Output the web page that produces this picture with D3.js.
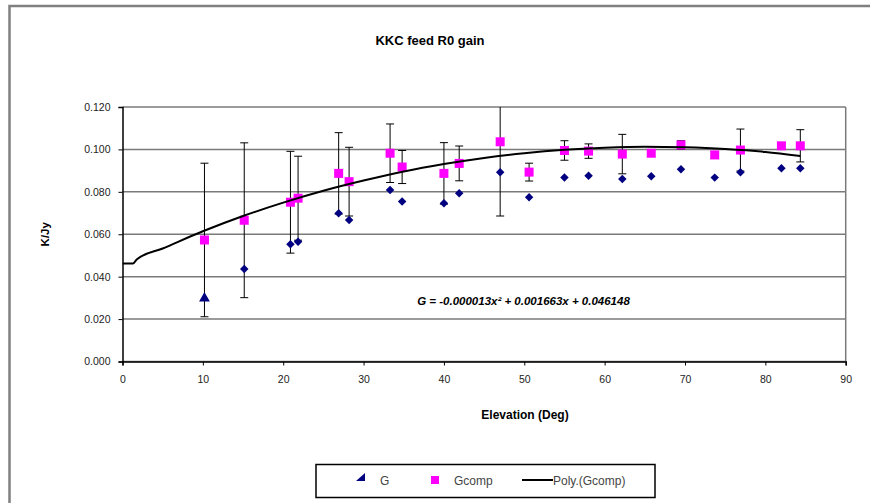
<!DOCTYPE html>
<html>
<head>
<meta charset="utf-8">
<script src="https://cdn.jsdelivr.net/npm/d3@7"></script>
<style>
  body { margin: 0; background: #fff; }
  svg { display: block; font-family: "Liberation Sans", Arial, sans-serif; }
</style>
</head>
<body>
<div id="chart"></div>
<script>
// elevation (deg) of each measurement
var elevation = [10.2, 15.15, 20.9, 21.85, 26.9, 28.2, 33.3, 34.8, 40.0, 41.9, 47.0, 50.6, 55.0, 58.0, 62.2, 65.8, 69.5, 73.7, 76.9, 82.0, 84.35];
// raw gain G
var gValues = [0.0298, 0.0436, 0.0553, 0.0565, 0.0699, 0.0667, 0.0809, 0.0754, 0.0746, 0.0793, 0.0892, 0.0774, 0.0868, 0.0876, 0.0860, 0.0873, 0.0906, 0.0867, 0.0892, 0.0911, 0.0911];
// compensated gain
var gcompValues = [0.0573, 0.0666, 0.0751, 0.0770, 0.0887, 0.0848, 0.0982, 0.0917, 0.0887, 0.0934, 0.1036, 0.0893, 0.0995, 0.0992, 0.0978, 0.0982, 0.1021, 0.0974, 0.0997, 0.1017, 0.1017];
// error bar half-height on Gcomp
var gcompErr = [0.0362, 0.0365, 0.0240, 0.0198, 0.0192, 0.0162, 0.0138, 0.0078, 0.0145, 0.0082, 0.0350, 0.0042, 0.0046, 0.0034, 0.0093, 0.0015, 0.0020, 0.0015, 0.0099, 0.0015, 0.0076];
// polynomial trendline
var trendX = [0, 1.3, 1.8, 5, 10, 15, 20, 25, 30, 35, 40, 45, 50, 55, 60, 65, 70, 75, 80, 84.35];
var trendY = [0.0462, 0.0462, 0.0482, 0.0533, 0.0614, 0.0686, 0.0749, 0.0805, 0.0853, 0.0896, 0.0931, 0.0960, 0.0982, 0.0998, 0.1008, 0.1013, 0.1010, 0.1002, 0.0988, 0.0969];

var xTicks = [0, 10, 20, 30, 40, 50, 60, 70, 80, 90];
var yTicks = [0, 0.02, 0.04, 0.06, 0.08, 0.10, 0.12];

var width = 870, height = 503;
var plotLeft = 122.5, plotRight = 845.7, plotTop = 107, plotBottom = 361.5;

var svg = d3.select("#chart").append("svg")
  .attr("width", width)
  .attr("height", height);

svg.append("rect").attr("width", width).attr("height", height).attr("fill", "#fff");

// outer chart frame (only top and left show)
svg.append("path")
  .attr("d", "M9.5," + height + "V6H" + width)
  .attr("fill", "none")
  .attr("stroke", "#808080")
  .attr("stroke-width", 2.5);

var x = d3.scaleLinear().domain([0, 90]).range([plotLeft, plotRight]);
var y = d3.scaleLinear().domain([0, 0.12]).range([plotBottom, plotTop]);

// gridlines
svg.append("g").selectAll("line")
  .data(yTicks)
  .enter().append("line")
    .attr("x1", plotLeft).attr("x2", plotRight)
    .attr("y1", function(d) { return y(d) }).attr("y2", function(d) { return y(d) })
    .attr("stroke", "#7a7a7a")
    .attr("stroke-width", 1.5);

// right border of plot area
svg.append("line")
  .attr("x1", plotRight).attr("x2", plotRight).attr("y1", plotTop).attr("y2", plotBottom)
  .attr("stroke", "#7a7a7a").attr("stroke-width", 1.5);

// axes
var yAxis = svg.append("g")
  .attr("transform", "translate(" + plotLeft + ",0)")
  .call(d3.axisLeft(y).tickValues(yTicks).tickFormat(d3.format(".3f")).tickSize(4).tickPadding(8));
var xAxis = svg.append("g")
  .attr("transform", "translate(0," + plotBottom + ")")
  .call(d3.axisBottom(x).tickValues(xTicks).tickSize(4).tickPadding(10));

[xAxis, yAxis].forEach(function(a) {
  a.select(".domain").attr("stroke", "#000").attr("stroke-width", 1.5);
  a.selectAll(".tick line").attr("stroke", "#000");
  a.selectAll("text").style("font-size", "10.5px").style("font-family", "Liberation Sans").attr("fill", "#222");
});

// titles
svg.append("text")
  .attr("x", 430).attr("y", 45)
  .attr("text-anchor", "middle")
  .style("font-size", "13px").style("font-weight", "bold")
  .text("KKC feed R0 gain");

svg.append("text")
  .attr("x", 525).attr("y", 419)
  .attr("text-anchor", "middle")
  .style("font-size", "12px").style("font-weight", "bold")
  .text("Elevation (Deg)");

svg.append("text")
  .attr("transform", "translate(49," + ((plotTop + plotBottom) / 2) + ") rotate(-90)")
  .attr("text-anchor", "middle")
  .style("font-size", "11.5px").style("font-weight", "bold")
  .text("K/Jy");

// clip for the plot
svg.append("defs").append("clipPath").attr("id", "clip")
  .append("rect").attr("x", plotLeft).attr("y", plotTop)
  .attr("width", plotRight - plotLeft).attr("height", plotBottom - plotTop);

var plot = svg.append("g").attr("clip-path", "url(#clip)");

// error bars on Gcomp
var errs = plot.append("g").selectAll("g")
  .data(elevation)
  .enter().append("g")
    .attr("stroke", "#000").attr("stroke-width", 1);
errs.append("line")
  .attr("x1", function(d) { return x(d) }).attr("x2", function(d) { return x(d) })
  .attr("y1", function(d, i) { return y(gcompValues[i] + gcompErr[i]) })
  .attr("y2", function(d, i) { return y(gcompValues[i] - gcompErr[i]) });
errs.append("line")
  .attr("x1", function(d) { return x(d) - 4 }).attr("x2", function(d) { return x(d) + 4 })
  .attr("y1", function(d, i) { return y(gcompValues[i] + gcompErr[i]) })
  .attr("y2", function(d, i) { return y(gcompValues[i] + gcompErr[i]) });
errs.append("line")
  .attr("x1", function(d) { return x(d) - 4 }).attr("x2", function(d) { return x(d) + 4 })
  .attr("y1", function(d, i) { return y(gcompValues[i] - gcompErr[i]) })
  .attr("y2", function(d, i) { return y(gcompValues[i] - gcompErr[i]) });

// G markers (navy diamonds, first one renders as a triangle)
var diamond = d3.symbol().type(d3.symbolSquare).size(36);
var triangle = d3.symbol().type(d3.symbolTriangle).size(50);
plot.append("g").selectAll("path")
  .data(elevation)
  .enter().append("path")
    .attr("d", function(d, i) { return i == 0 ? triangle() : diamond() })
    .attr("transform", function(d, i) {
      return "translate(" + x(d) + "," + y(gValues[i]) + ")" + (i == 0 ? "" : " rotate(45)");
    })
    .attr("fill", "#000080");

// Gcomp markers (magenta squares)
plot.append("g").selectAll("rect")
  .data(elevation)
  .enter().append("rect")
    .attr("x", function(d) { return x(d) - 4.5 })
    .attr("y", function(d, i) { return y(gcompValues[i]) - 4.5 })
    .attr("width", 9).attr("height", 9)
    .attr("fill", "#ff00ff");

// trendline
var line = d3.line()
  .x(function(d) { return x(d) })
  .y(function(d, i) { return y(trendY[i]) })
  .curve(d3.curveMonotoneX);
plot.append("path")
  .attr("d", line(trendX))
  .attr("fill", "none")
  .attr("stroke", "#000")
  .attr("stroke-width", 2);

// equation
svg.append("text")
  .attr("x", 523.5).attr("y", 305)
  .attr("text-anchor", "middle")
  .style("font-size", "11.5px").style("font-weight", "bold").style("font-style", "italic")
  .text("G = -0.000013x² + 0.001663x + 0.046148");

// legend
var lg = svg.append("g");
lg.append("rect")
  .attr("x", 316).attr("y", 464.5).attr("width", 339).attr("height", 33)
  .attr("fill", "#fff").attr("stroke", "#000").attr("stroke-width", 1.5);
lg.append("path")
  .attr("d", "M356,481L365,481L365,473Z")
  .attr("fill", "#000080");
lg.append("text").attr("x", 380).attr("y", 485).style("font-size", "12px").attr("fill", "#444").text("G");
lg.append("rect").attr("x", 431).attr("y", 476).attr("width", 8).attr("height", 8).attr("fill", "#ff00ff");
lg.append("text").attr("x", 454).attr("y", 485).style("font-size", "12px").attr("fill", "#444").text("Gcomp");
lg.append("line").attr("x1", 522).attr("x2", 553).attr("y1", 480).attr("y2", 480)
  .attr("stroke", "#000").attr("stroke-width", 2);
lg.append("text").attr("x", 553).attr("y", 485).style("font-size", "12px").attr("fill", "#444").text("Poly.(Gcomp)");
</script>
</body>
</html>
